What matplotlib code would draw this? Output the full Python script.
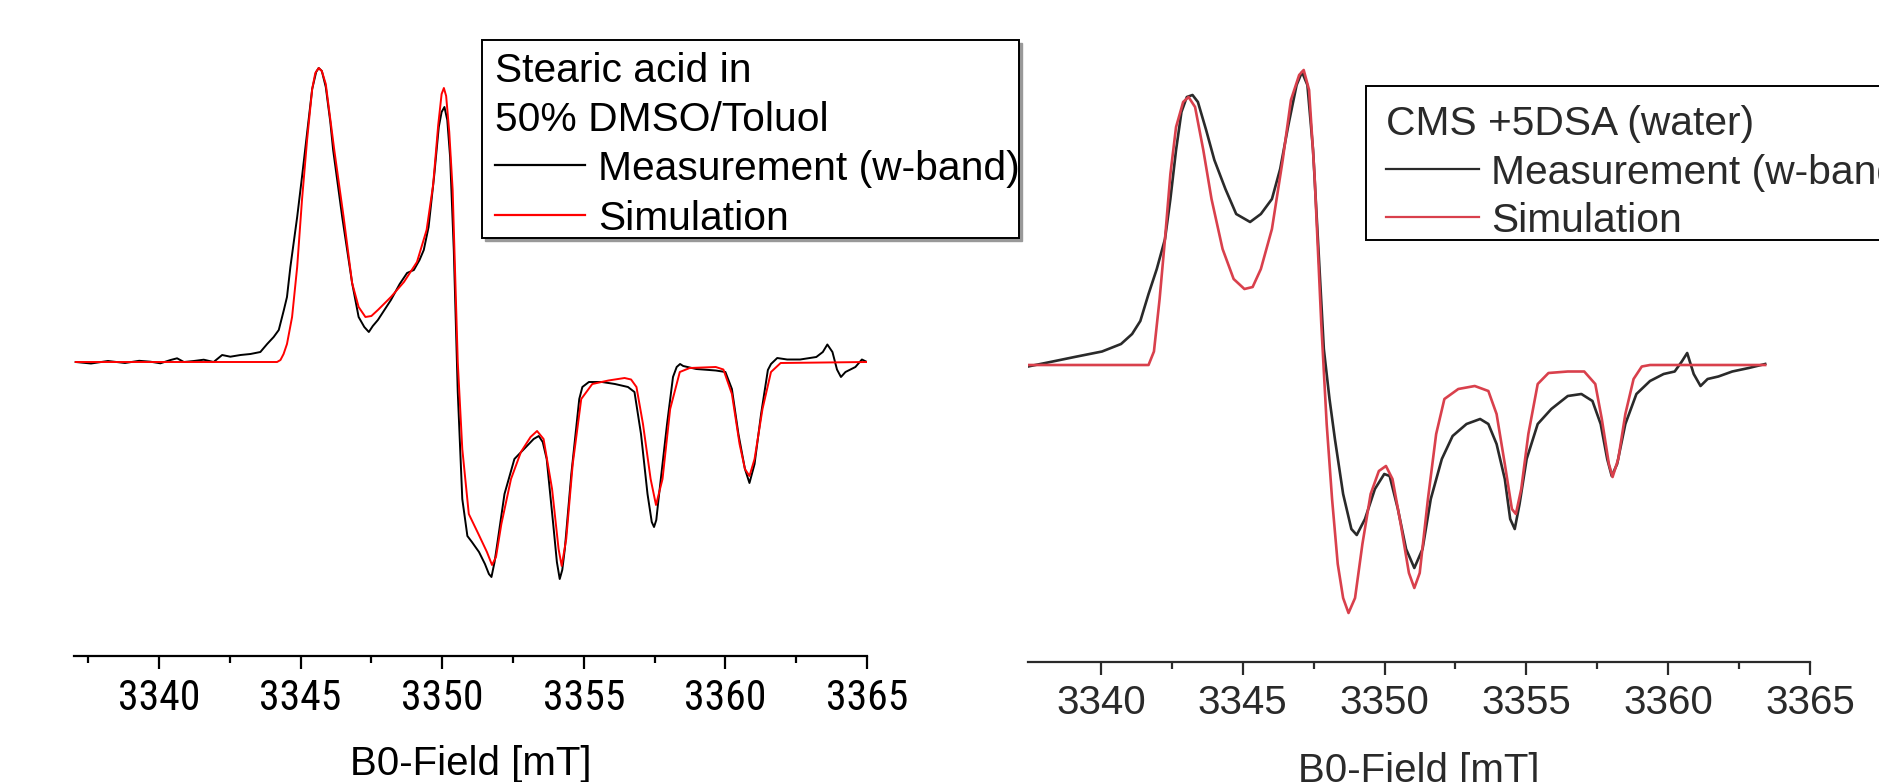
import matplotlib
matplotlib.use("Agg")
import matplotlib.pyplot as plt
from matplotlib import font_manager
from matplotlib.lines import Line2D
from matplotlib.patches import Rectangle
from matplotlib.transforms import Affine2D

plt.rcParams['font.family'] = ['Liberation Sans', 'DejaVu Sans']

# ---- left panel: stearic acid in 50% DMSO/Toluol ----
left_meas_x = [3337.06, 3337.60, 3338.20, 3338.80, 3339.30, 3339.70, 3340.05, 3340.41, 3340.64,
               3340.88, 3341.23, 3341.58, 3341.93, 3342.23, 3342.52, 3342.88, 3343.23, 3343.58,
               3343.82, 3344.05, 3344.23, 3344.41, 3344.52, 3344.64, 3344.88, 3345.05, 3345.23,
               3345.41, 3345.55, 3345.64, 3345.75, 3345.89, 3346.05, 3346.15, 3346.47, 3346.82,
               3347.05, 3347.25, 3347.41, 3347.55, 3347.73, 3348.19, 3348.50, 3348.76, 3349.00,
               3349.20, 3349.35, 3349.52, 3349.72, 3349.88, 3349.98, 3350.08, 3350.18, 3350.28,
               3350.41, 3350.55, 3350.71, 3350.89, 3351.05, 3351.30, 3351.51, 3351.65, 3351.74,
               3351.85, 3351.97, 3352.20, 3352.55, 3352.89, 3353.23, 3353.41, 3353.55, 3353.69,
               3353.92, 3354.05, 3354.15, 3354.24, 3354.33, 3354.56, 3354.84, 3354.95, 3355.18,
               3355.64, 3356.10, 3356.56, 3356.79, 3357.02, 3357.25, 3357.40, 3357.48, 3357.56,
               3357.64, 3357.94, 3358.15, 3358.28, 3358.40, 3358.51, 3358.97, 3359.66, 3360.00,
               3360.23, 3360.46, 3360.69, 3360.85, 3361.03, 3361.26, 3361.50, 3361.61, 3361.83,
               3362.18, 3362.64, 3363.21, 3363.44, 3363.60, 3363.78, 3363.94, 3364.08, 3364.24,
               3364.59, 3364.82, 3365.00]
left_meas_y = [0.0, -0.015, 0.01, -0.01, 0.012, 0.003, -0.013, 0.02, 0.037,
               0.0, 0.01, 0.023, 0.0, 0.07, 0.053, 0.07, 0.08, 0.10,
               0.18, 0.25, 0.32, 0.52, 0.65, 0.95, 1.45, 1.85, 2.29,
               2.73, 2.90, 2.94, 2.91, 2.75, 2.40, 2.12, 1.45, 0.79,
               0.45, 0.35, 0.30, 0.36, 0.42, 0.62, 0.78, 0.89, 0.92,
               1.02, 1.12, 1.35, 1.87, 2.35, 2.50, 2.55, 2.42, 2.05,
               1.12, -0.30, -1.37, -1.74, -1.80, -1.90, -2.02, -2.12, -2.15,
               -2.00, -1.77, -1.32, -0.97, -0.87, -0.77, -0.74, -0.80, -0.97,
               -1.62, -2.00, -2.17, -2.08, -1.87, -1.12, -0.37, -0.25, -0.20,
               -0.20, -0.22, -0.25, -0.30, -0.72, -1.32, -1.60, -1.65, -1.58,
               -1.37, -0.62, -0.15, -0.05, -0.02, -0.04, -0.07, -0.085, -0.10,
               -0.27, -0.72, -1.07, -1.21, -1.02, -0.52, -0.08, -0.02, 0.04,
               0.025, 0.025, 0.05, 0.10, 0.175, 0.10, -0.075, -0.15, -0.10,
               -0.05, 0.025, 0.0]

left_sim_x = [3337.06, 3344.17, 3344.29, 3344.40, 3344.52, 3344.70, 3344.88, 3345.05, 3345.23,
              3345.41, 3345.52, 3345.64, 3345.75, 3345.89, 3346.19, 3346.52, 3346.82, 3347.05,
              3347.29, 3347.50, 3347.73, 3348.19, 3348.65, 3349.11, 3349.45, 3349.68, 3349.86,
              3349.98, 3350.06, 3350.14, 3350.25, 3350.37, 3350.55, 3350.71, 3350.94, 3351.28,
              3351.58, 3351.76, 3351.90, 3352.09, 3352.43, 3352.78, 3353.12, 3353.35, 3353.58,
              3353.88, 3354.11, 3354.22, 3354.38, 3354.61, 3354.91, 3355.30, 3355.87, 3356.44,
              3356.67, 3356.86, 3357.09, 3357.36, 3357.55, 3357.78, 3358.05, 3358.39, 3358.74,
              3359.66, 3359.93, 3360.23, 3360.50, 3360.69, 3360.85, 3361.03, 3361.31, 3361.61,
              3361.95, 3365.00]
left_sim_y = [0.0, 0.0, 0.02, 0.08, 0.18, 0.45, 0.95, 1.62, 2.22,
              2.73, 2.89, 2.94, 2.91, 2.78, 2.12, 1.45, 0.79, 0.55,
              0.45, 0.46, 0.52, 0.65, 0.80, 1.00, 1.32, 1.77, 2.37,
              2.68, 2.74, 2.66, 2.30, 1.72, 0.0, -0.87, -1.52, -1.72,
              -1.90, -2.03, -1.95, -1.62, -1.17, -0.90, -0.75, -0.69, -0.77,
              -1.27, -1.87, -2.04, -1.77, -1.02, -0.37, -0.22, -0.185, -0.16,
              -0.175, -0.25, -0.62, -1.17, -1.43, -1.17, -0.47, -0.10, -0.06,
              -0.05, -0.075, -0.32, -0.82, -1.07, -1.14, -0.97, -0.47, -0.10,
              -0.01, 0.0]

# ---- right panel: CMS +5DSA (water) ----
right_meas_x = [3337.43, 3338.30, 3339.07, 3340.04, 3340.71, 3341.10, 3341.39, 3341.68, 3341.97,
                3342.26, 3342.45, 3342.65, 3342.84, 3343.03, 3343.23, 3343.42, 3343.71, 3344.00,
                3344.39, 3344.77, 3345.26, 3345.64, 3346.03, 3346.32, 3346.61, 3346.90, 3347.09,
                3347.28, 3347.48, 3347.67, 3347.86, 3348.06, 3348.25, 3348.54, 3348.83, 3349.02,
                3349.31, 3349.66, 3349.99, 3350.18, 3350.47, 3350.76, 3351.05, 3351.34, 3351.63,
                3352.02, 3352.40, 3352.89, 3353.37, 3353.66, 3353.95, 3354.24, 3354.43, 3354.59,
                3354.76, 3355.01, 3355.40, 3355.88, 3356.46, 3356.94, 3357.33, 3357.62, 3357.85,
                3358.01, 3358.20, 3358.49, 3358.88, 3359.36, 3359.84, 3360.23, 3360.48, 3360.67,
                3360.90, 3361.14, 3361.39, 3361.77, 3362.26, 3362.84, 3363.42]
right_meas_y = [-0.015, 0.035, 0.08, 0.135, 0.21, 0.31, 0.44, 0.71, 0.96,
                1.26, 1.66, 2.15, 2.53, 2.68, 2.70, 2.63, 2.35, 2.05,
                1.76, 1.51, 1.43, 1.51, 1.66, 1.96, 2.40, 2.80, 2.93,
                2.80, 2.15, 1.16, 0.16, -0.34, -0.74, -1.29, -1.64, -1.70,
                -1.54, -1.24, -1.09, -1.11, -1.44, -1.84, -2.03, -1.84, -1.34,
                -0.94, -0.71, -0.59, -0.54, -0.59, -0.79, -1.14, -1.54, -1.64,
                -1.39, -0.94, -0.59, -0.44, -0.31, -0.29, -0.36, -0.59, -0.94,
                -1.11, -0.99, -0.59, -0.29, -0.16, -0.09, -0.065, 0.035, 0.12,
                -0.09, -0.21, -0.14, -0.115, -0.065, -0.03, 0.01]

right_sim_x = [3337.43, 3341.68, 3341.87, 3342.07, 3342.26, 3342.45, 3342.65, 3342.90, 3343.09,
               3343.32, 3343.61, 3343.90, 3344.29, 3344.68, 3345.06, 3345.35, 3345.64, 3346.03,
               3346.41, 3346.70, 3346.99, 3347.15, 3347.34, 3347.53, 3347.77, 3347.96, 3348.15,
               3348.35, 3348.54, 3348.73, 3348.96, 3349.22, 3349.51, 3349.80, 3350.05, 3350.28,
               3350.57, 3350.86, 3351.05, 3351.24, 3351.53, 3351.82, 3352.11, 3352.60, 3353.18,
               3353.66, 3353.95, 3354.24, 3354.49, 3354.63, 3354.82, 3355.07, 3355.40, 3355.78,
               3356.46, 3357.04, 3357.43, 3357.66, 3357.91, 3358.04, 3358.24, 3358.49, 3358.78,
               3359.07, 3359.36, 3363.42]
right_sim_y = [0.0, 0.0, 0.135, 0.66, 1.26, 1.91, 2.38, 2.63, 2.68,
               2.58, 2.15, 1.66, 1.16, 0.86, 0.76, 0.78, 0.96, 1.36,
               2.05, 2.65, 2.90, 2.95, 2.75, 1.91, 0.41, -0.59, -1.34,
               -1.99, -2.33, -2.48, -2.33, -1.79, -1.29, -1.06, -1.01, -1.14,
               -1.59, -2.08, -2.23, -2.08, -1.34, -0.69, -0.34, -0.24, -0.21,
               -0.26, -0.49, -0.99, -1.44, -1.49, -1.24, -0.69, -0.19, -0.08,
               -0.065, -0.065, -0.19, -0.54, -0.99, -1.12, -0.94, -0.49, -0.14,
               -0.015, 0.0, 0.0]

major_ticks = [3340, 3345, 3350, 3355, 3360, 3365]
left_title = ['Stearic acid in', '50% DMSO/Toluol']
right_title = ['CMS +5DSA (water)']
entry_labels = ['Measurement (w-band)', 'Simulation']

W, H = 1879, 782
fig = plt.figure(figsize=(W / 100, H / 100), dpi=100)
fs = 29
lfs = 29.3
# pixel coordinates, measured from the top-left corner of the picture
px = Affine2D().scale(1 / W, -1 / H).translate(0, 1) + fig.transFigure

# the left panel's tick numbers are set in a narrow face in the original
installed = {f.name for f in font_manager.fontManager.ttflist}
narrow = None
for cand in ['Liberation Sans Narrow', 'Arial Narrow', 'Roboto Condensed', 'Open Sans Condensed']:
    if cand in installed:
        narrow = font_manager.FontProperties(family=cand, size=fs + 1)
        break
if narrow is None:
    narrow = font_manager.FontProperties(family='DejaVu Sans', stretch='condensed', size=fs - 1)


def px_axes(x0, x1, y_top, y_bottom):
    return fig.add_axes([x0 / W, 1 - y_bottom / H, (x1 - x0) / W, (y_bottom - y_top) / H])


def style_axis(ax, xlim, ylim, minors, tick_color, label_top, tick_font=None):
    ax.set_xlim(*xlim)
    ax.set_ylim(*ylim)
    for s in ['left', 'right', 'top']:
        ax.spines[s].set_visible(False)
    ax.spines['bottom'].set_linewidth(1.6)
    ax.spines['bottom'].set_color(tick_color)
    ax.set_yticks([])
    ax.set_xticks(major_ticks)
    ax.set_xticks(minors, minor=True)
    ax.tick_params(axis='x', which='major', length=9, width=1.6, pad=7,
                   labelsize=fs, colors=tick_color)
    ax.tick_params(axis='x', which='minor', length=5, width=1.6, colors=tick_color)
    if tick_font is not None:
        for lab in ax.get_xticklabels():
            lab.set_fontproperties(tick_font)
    ax.patch.set_alpha(0)
    ax.set_xlabel('B0-Field [mT]', fontsize=fs, color=tick_color)
    # place the label's top edge at a fixed pixel row below the axis line
    bb = ax.get_position()
    axis_row = (1 - bb.y0) * H
    ax.xaxis.set_label_coords(0.5, -(label_top - axis_row) / (bb.height * H))


def draw_legend(box, rows, title, colors, text_x, handle_x, label_x, text_color, shadow):
    x0, y0, x1, y1 = box
    if shadow:
        fig.add_artist(Rectangle((x0 + 3, y0 + 3), x1 - x0, y1 - y0, transform=px,
                                 facecolor='0.6', edgecolor='0.6', lw=1))
    fig.add_artist(Rectangle((x0, y0), x1 - x0, y1 - y0, transform=px,
                             facecolor='white', edgecolor='black', lw=1.4))
    lines = title + entry_labels
    for i, (txt, yc) in enumerate(zip(lines, rows)):
        k = i - len(title)
        if k < 0:
            fig.text(text_x, yc + 14.6, txt, transform=px, fontsize=lfs,
                     color=text_color, va='baseline')
        else:
            fig.add_artist(Line2D(handle_x, [yc, yc], transform=px,
                                  color=colors[k], lw=1.6))
            fig.text(label_x, yc + 14.6, txt, transform=px, fontsize=lfs,
                     color=text_color, va='baseline')


# left panel
ax1 = px_axes(74, 867, 0, 656)
ax1.plot(left_meas_x, left_meas_y, color='black', lw=1.4)
ax1.plot(left_sim_x, left_sim_y, color='red', lw=1.4)
style_axis(ax1, (3337.0, 3365.0), (-2.94, 3.62),
           [3337.5, 3342.5, 3347.5, 3352.5, 3357.5, 3362.5], 'black', 745, narrow)
draw_legend((482, 40, 1019, 238), [67, 116, 165, 215], left_title,
            ['black', 'red'], 495, [495, 585], 598, 'black', True)

# right panel
dark = '#2a2a2a'
red2 = '#d9404c'
ax2 = px_axes(1028, 1810, 0, 662)
ax2.plot(right_meas_x, right_meas_y, color=dark, lw=1.9)
ax2.plot(right_sim_x, right_sim_y, color=red2, lw=1.9)
style_axis(ax2, (3337.43, 3365.0), (-2.97, 3.65),
           [3342.5, 3347.5, 3352.5, 3357.5, 3362.5], dark, 752)
draw_legend((1366, 86, 1895, 240), [120, 169, 217], right_title,
            [dark, red2], 1386, [1386, 1479], 1491, dark, False)

fig.savefig('out.png', dpi=100)
